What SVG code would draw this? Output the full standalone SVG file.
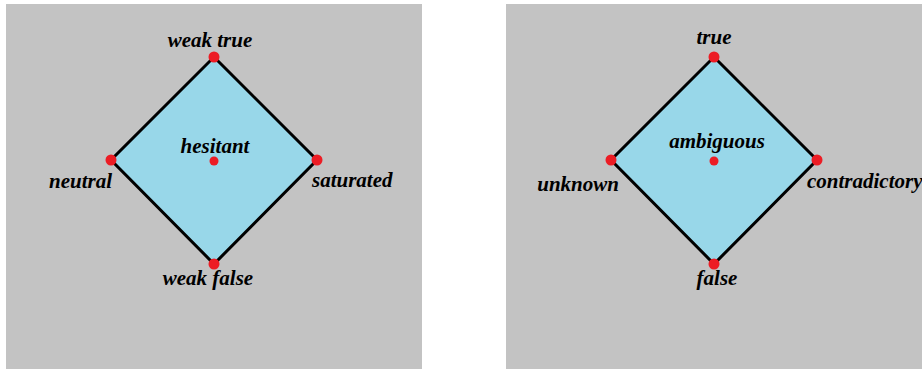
<svg xmlns="http://www.w3.org/2000/svg" width="922" height="372" viewBox="0 0 922 372">
<style>
.panel{fill:#c3c3c3}
.dia{fill:#98d7e9;stroke:#000;stroke-width:3}
.v{fill:#ec1c24}
</style>
<rect width="922" height="372" fill="#fff"/>
<g id="panel-left">
<rect class="panel" x="6" y="4" width="416" height="365"/>
</g>
<g id="panel-right">
<rect class="panel" x="506" y="4" width="416" height="365"/>
</g>
<g id="connectors">
<polygon class="dia" points="214,57 317,160 214,264 111,160"/>
<polygon class="dia" points="714,57 817,160 714,264 611,160"/>
</g>
<g id="weak-true"><circle class="v" cx="214" cy="57" r="5.5"/><text font-family="Liberation Serif" font-style="italic" font-weight="bold" font-size="21" x="210" y="47" text-anchor="middle">weak true</text></g>
<g id="neutral"><circle class="v" cx="111" cy="160" r="5.5"/><text font-family="Liberation Serif" font-style="italic" font-weight="bold" font-size="21" x="112" y="188" text-anchor="end">neutral</text></g>
<g id="saturated"><circle class="v" cx="317" cy="160" r="5.5"/><text font-family="Liberation Serif" font-style="italic" font-weight="bold" font-size="21" x="312" y="187">saturated</text></g>
<g id="weak-false"><circle class="v" cx="214" cy="264" r="5.5"/><text font-family="Liberation Serif" font-style="italic" font-weight="bold" font-size="21" x="208" y="285" text-anchor="middle">weak false</text></g>
<g id="hesitant"><circle class="v" cx="214" cy="161" r="4.5"/><text font-family="Liberation Serif" font-style="italic" font-weight="bold" font-size="21" x="215" y="153" text-anchor="middle">hesitant</text></g>
<g id="true"><circle class="v" cx="714" cy="57" r="5.5"/><text font-family="Liberation Serif" font-style="italic" font-weight="bold" font-size="21" x="714" y="44" text-anchor="middle">true</text></g>
<g id="unknown"><circle class="v" cx="611" cy="160" r="5.5"/><text font-family="Liberation Serif" font-style="italic" font-weight="bold" font-size="21" x="619" y="191" text-anchor="end">unknown</text></g>
<g id="contradictory"><circle class="v" cx="817" cy="160" r="5.5"/><text font-family="Liberation Serif" font-style="italic" font-weight="bold" font-size="21" x="807" y="188">contradictory</text></g>
<g id="false"><circle class="v" cx="714" cy="264" r="5.5"/><text font-family="Liberation Serif" font-style="italic" font-weight="bold" font-size="21" x="717" y="285" text-anchor="middle">false</text></g>
<g id="ambiguous"><circle class="v" cx="714" cy="161" r="4.5"/><text font-family="Liberation Serif" font-style="italic" font-weight="bold" font-size="21" x="717" y="148" text-anchor="middle">ambiguous</text></g>
</svg>
